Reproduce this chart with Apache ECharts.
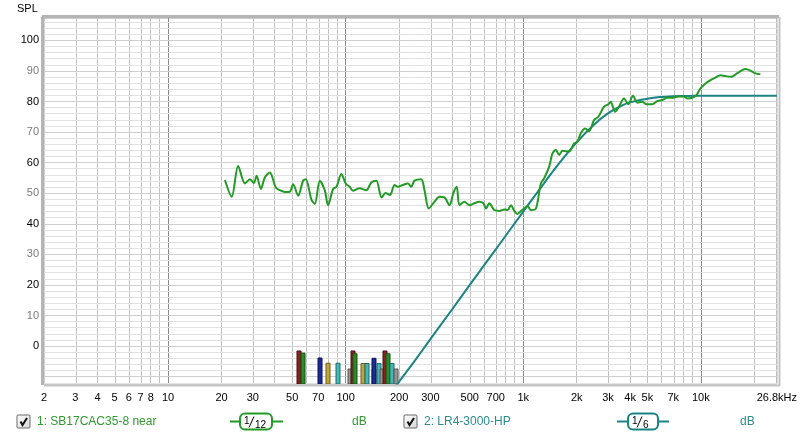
<!DOCTYPE html>
<html>
<head>
<meta charset="utf-8">
<script src="https://cdn.jsdelivr.net/npm/echarts@6/dist/echarts.min.js"></script>
<style>
html,body{margin:0;padding:0;background:#fff;}
#chart{width:800px;height:436px;}
</style>
</head>
<body>
<div id="chart"></div>
<script>
// ---- data ----
const greenFreq = [20.9,22.8,24.8,27.1,28.9,30.4,31.5,33.3,35.1,37.4,40.4,42.6,45.4,48.5,50.6,54.0,57.5,59.6,64.2,67.0,71.5,76.2,79.6,84.9,88.7,94.6,100,105.3,109.9,119.8,130.7,139.4,148.8,159.3,167.8,177.6,188.5,196.7,209.9,223.9,233.9,244.1,266.3,277.9,293.8,316.2,337.3,359.9,384.0,404.5,422.0,437.0,466.2,497.3,530.5,565.9,596.3,617.1,644.2,687.3,733.2,782.2,816.4,853.1,890.3,929.0,970.7,1013,1057,1105,1179,1257,1312,1400,1461,1527,1593,1663,1813,1934,2018,2109,2230,2349,2505,2649,2851,3015,3110,3288,3462,3694,3905,4150,4386,4680,4928,5327,5683,6060,6467,6900,7457,8027,8375,8937,9410,9961,10630,11340,12090,12900,13770,14880,15990,17830,19020,20290,21650];
const greenSpl  = [54.3,48.8,58.9,53.2,54.6,53.3,55.7,51.4,55.2,56.8,51.9,51.0,50.4,50.5,52.9,49.2,54.0,54.6,47.8,46.5,54.1,51.0,46.1,51.3,52.1,56.3,53.2,52.1,50.8,51.6,51.0,53.5,54.1,48.6,50.1,49.4,52.7,52.1,52.7,53.2,52.1,54.1,54.6,51.0,45.0,47.2,48.8,48.6,46.1,50.1,52.1,46.1,47.2,46.1,46.7,47.2,46.7,45.0,46.7,44.5,44.2,44.7,44.5,46.1,44.2,43.2,44.2,45.0,45.8,44.5,45.0,53.2,54.9,58.7,63.0,64.1,62.5,63.9,63.6,66.3,66.8,69.6,71.2,70.3,73.9,75.0,78.3,79.1,79.9,76.6,78.3,81.0,79.1,81.9,79.6,79.9,79.1,79.1,80.1,80.5,81.2,81.2,81.6,81.6,81.0,81.2,81.9,84.3,85.9,87.0,87.8,88.6,88.3,88.1,89.2,90.6,90.1,89.2,88.9];

const tealFreq = [180,200,250,300,400,500,700,1000,1300,1600,2000,2500,3000,3500,4000,5000,6000,7000,8500,10000,15000,26800];
const tealSpl  = [-15.2,-11.6,-4.1,2.3,12.2,20.0,31.6,44.0,53.0,59.9,66.6,72.4,76.1,78.3,79.7,80.9,81.5,81.7,81.8,81.9,81.9,81.9];

const barFreq = [54.9,57.6,71.4,79.2,90.2,106.3,109.9,113.4,125.7,132.4,144.2,144.2,153.2,159.9,165.6,172.2,182.9,191.6];
const barSpl  = [-1.6,-2.3,-3.9,-5.6,-5.6,-7.5,-1.6,-2.5,-5.7,-5.7,-7.5,-4.0,-5.7,-7.5,-1.6,-2.5,-5.7,-7.5];
const barKind = ['red','green','navy','gold','cyan','gray','red','green','gold','cyan','gray','navy','cyan','gray','red','green','cyan','gray'];

const xTickHz   = [2,3,4,5,6,7,8,10,20,30,50,70,100,200,300,500,700,1000,2000,3000,4000,5000,7000,10000,26800];
const xTickText = ['2','3','4','5','6','7','8','10','20','30','50','70','100','200','300','500','700','1k','2k','3k','4k','5k','7k','10k','26.8kHz'];
const yTicks = [0,10,20,30,40,50,60,70,80,90,100];

const seriesNames = ['1: SB17CAC35-8 near','2: LR4-3000-HP'];

// ---- styling ----
const X_MIN = 2, X_MAX = 26800, Y_MIN = -12.4, Y_MAX = 107.3;
const GREEN = '#229a26', TEAL = '#1b8383';
const FONT = '"Liberation Sans", Arial, sans-serif';
const barColors = {
  red:  {fill:'#8b2020', edge:'#4a1010'},
  green:{fill:'#2a8a2a', edge:'#145014'},
  navy: {fill:'#1c2a9a', edge:'#0c1250'},
  gold: {fill:'#c0a538', edge:'#6e5e1c'},
  cyan: {fill:'#45b8b8', edge:'#1f6a6a'},
  gray: {fill:'#959595', edge:'#555555'}
};
const lg = Math.log10;

// gridline positions
const vGrid = [];
for (let k = 0; k <= 4; k++) for (let n = 1; n <= 9; n++) {
  const f = n * Math.pow(10, k);
  if (f > X_MIN && f < X_MAX) vGrid.push({f, major: n === 1});
}
const hGrid = [];
for (let v = -12; v <= 106; v += 2) hGrid.push({v, major: v % 10 === 0});

const gridMarks = [];
vGrid.forEach(g => gridMarks.push({xAxis: lg(g.f), lineStyle:{color: g.major ? '#8a8a8a' : '#c2c2c2', width:1, type:'solid'}}));
hGrid.forEach(g => gridMarks.push({yAxis: g.v, lineStyle:{color: g.major ? '#cfcfcf' : '#e2e2e2', width:1, type:'solid'}}));

const chart = echarts.init(document.getElementById('chart'), null, {renderer:'canvas'});

function checkbox(x, y) {
  return [
    {type:'rect', shape:{x:x, y:y, width:13, height:13, r:1},
     style:{fill:new echarts.graphic.LinearGradient(0,0,1,1,[{offset:0,color:'#ffffff'},{offset:1,color:'#d6d6d6'}]), stroke:'#6a6a6a', lineWidth:1}},
    {type:'polyline', shape:{points:[[x+3.5,y+6.5],[x+5.5,y+10],[x+10,y+3]]}, style:{stroke:'#111', lineWidth:2, fill:null}}
  ];
}
function smoothBox(x1, x2, bx, bw, col, sub) {
  return [
    {type:'line', shape:{x1:x1, y1:421.5, x2:x2, y2:421.5}, style:{stroke:col, lineWidth:2}},
    {type:'rect', shape:{x:bx, y:413.5, width:bw, height:16, r:5}, style:{fill:'#fff', stroke:col, lineWidth:2}},
    {type:'text', x:bx+4, y:416, style:{text:'1', font:'10px ' + FONT, fill:'#000', verticalAlign:'top'}},
    {type:'line', shape:{x1:bx+9, y1:427.5, x2:bx+14, y2:416.5}, style:{stroke:'#000', lineWidth:1}},
    {type:'text', x:bx+15, y:420, style:{text:sub, font:'10px ' + FONT, fill:'#000', verticalAlign:'top'}}
  ];
}

const graphics = [
  {type:'text', x:17, y:3, style:{text:'SPL', font:'11px ' + FONT, fill:'#000', verticalAlign:'top'}},
  {type:'line', shape:{x1:42.5, y1:17, x2:42.5, y2:385}, style:{stroke:'#b4b4b4', lineWidth:3}, z:50},
  {type:'line', shape:{x1:42, y1:16.5, x2:779, y2:16.5}, style:{stroke:'#b4b4b4', lineWidth:3}, z:50},
  {type:'line', shape:{x1:44, y1:385.5, x2:780, y2:385.5}, style:{stroke:'#c4c4c4', lineWidth:2}, z:50},
  {type:'line', shape:{x1:779.5, y1:17, x2:779.5, y2:386}, style:{stroke:'#c4c4c4', lineWidth:2}, z:50},
  ...checkbox(17, 415),
  {type:'text', x:37, y:422, style:{text:seriesNames[0], font:'12px ' + FONT, fill:'#2f9a2f', verticalAlign:'middle'}},
  ...smoothBox(230, 283, 240, 32, GREEN, '12'),
  {type:'text', x:352, y:422, style:{text:'dB', font:'12px ' + FONT, fill:'#2f9a2f', verticalAlign:'middle'}},
  ...checkbox(404, 415),
  {type:'text', x:424, y:422, style:{text:seriesNames[1], font:'12px ' + FONT, fill:'#2b8c8c', verticalAlign:'middle'}},
  ...smoothBox(617, 669, 628, 30, TEAL, '6'),
  {type:'text', x:740, y:422, style:{text:'dB', font:'12px ' + FONT, fill:'#2b8c8c', verticalAlign:'middle'}}
];

const option = {
  animation:false,
  backgroundColor:'#ffffff',
  grid:{left:44, right:22, top:18, bottom:52, show:true, backgroundColor:'#ffffff', borderColor:'#9c9c9c', borderWidth:1},
  xAxis:{
    type:'value', min:lg(X_MIN), max:lg(X_MAX),
    axisLine:{show:false}, axisTick:{show:false}, splitLine:{show:false},
    axisLabel:{
      customValues: xTickHz.map(lg),
      formatter: v => { const i = xTickHz.findIndex(h => Math.abs(lg(h) - v) < 1e-6); return i >= 0 ? xTickText[i] : ''; },
      margin:8, fontSize:11, fontFamily:FONT, color:'#000', showMinLabel:true, showMaxLabel:true, hideOverlap:false
    }
  },
  yAxis:{
    type:'value', min:Y_MIN, max:Y_MAX,
    axisLine:{show:false}, axisTick:{show:false}, splitLine:{show:false},
    axisLabel:{
      customValues: yTicks,
      margin:5, fontSize:11, fontFamily:FONT,
      color: v => (Math.round(v) % 20 === 0 ? '#000000' : '#7a7a7a')
    }
  },
  series:[
    {type:'line', data:[], silent:true, z:1,
     markLine:{z:0, zlevel:0, silent:true, symbol:['none','none'], label:{show:false}, animation:false, data:gridMarks}},
    {type:'custom', z:3, clip:true,
     data: barFreq.map((f,i) => [lg(f), barSpl[i]]),
     renderItem:(params, api) => {
       const top = api.coord([api.value(0), api.value(1)]);
       const base = api.coord([api.value(0), Y_MIN]);
       const c = barColors[barKind[params.dataIndex]];
       return {type:'rect', shape:{x:Math.round(top[0]) - 2, y:top[1], width:4, height:base[1] - top[1]},
               style:{fill:c.fill, stroke:c.edge, lineWidth:1}};
     }},
    {type:'line', name:seriesNames[1], z:4, symbol:'none', smooth:0.5, clip:true,
     data: tealFreq.map((f,i) => [lg(f), tealSpl[i]]),
     lineStyle:{color:TEAL, width:2}},
    {type:'line', name:seriesNames[0], z:5, symbol:'none', smooth:0.3, clip:true,
     data: greenFreq.map((f,i) => [lg(f), greenSpl[i]]),
     lineStyle:{color:GREEN, width:2}}
  ],
  graphic: graphics
};
chart.setOption(option);
</script>
</body>
</html>
